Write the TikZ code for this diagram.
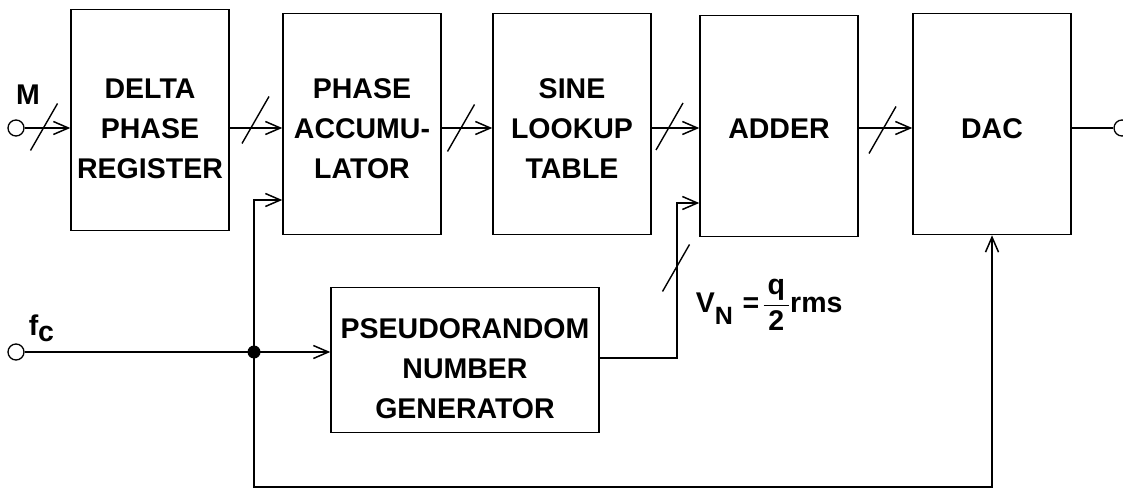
\documentclass[tikz,border=0pt]{standalone}
\usepackage{amsmath}
\usepackage{fontspec}
\setmainfont{Liberation Sans}
\usetikzlibrary{positioning,arrows.meta}
% invisible strut on the first line: pushes the text down inside its box
\newcommand\padtop[1]{\rule{0pt}{#1pt}}

\begin{document}
\begin{tikzpicture}[
  x=1pt, y=-1pt,
  font=\bfseries\fontsize{28.5}{40}\selectfont,
  line width=1.5pt,
  box/.style={draw, minimum width=158, minimum height=221, align=center, inner sep=0pt},
  port/.style={circle, draw, fill=white, minimum size=16pt, inner sep=0pt, line width=1.3pt},
  dot/.style={circle, fill=black, minimum size=13pt, inner sep=0pt},
  lbl/.style={inner sep=0pt},
  arr/.style={-{Straight Barb[length=15pt, width=13pt]}},
  bus/.style={line width=1.4pt},
]
\useasboundingbox (0,0) rectangle (1123,489);
\def\ym{128}

% ---------- Bloques ----------
\node[box] (dpr) at (150,120) {\padtop{36.4}DELTA\\PHASE\\REGISTER};
\node[box] (pa)  at (362,124) {\padtop{28.4}PHASE\\ACCUMU-\\LATOR};
\node[box] (slt) at (572,124) {\padtop{28.4}SINE\\LOOKUP\\TABLE};
\node[box] (add) at (779,126) {\padtop{24.4}ADDER};
\node[box] (dac) at (992,124) {\padtop{28.4}DAC};
\node[box, minimum width=268, minimum height=145] (prng) at (465,360)
  {\padtop{37.4}PSEUDORANDOM\\NUMBER\\GENERATOR};

% ---------- Entradas y salida ----------
\node[port] (min)  at (16,\ym) {};
\node[port] (fcin) at (16,352) {};
\node[port] (vout) at (1122,\ym) {};
\node[dot]  (jn)   at (254,352) {};

\node[lbl, anchor=base] (mlbl) at (28,105) {M};
\node[lbl, anchor=base west] (fclbl) at (28,335) {f\raisebox{-6pt}{c}};
\node[lbl, anchor=base west] (vnlbl) at (695,312)
  {V\raisebox{-12pt}{\fontsize{25}{25}\selectfont N} \hspace{2pt}=\hspace{3pt}$\genfrac{}{}{1.4pt}{0}{\mbox{\hspace{4pt}q\hspace{4pt}}}{\mbox{2}}$rms};

% ---------- Flechas ----------
\draw[arr] (min.east) -- (dpr.west |- 0,\ym);
\draw[arr] (dpr.east |- 0,\ym) -- (pa.west |- 0,\ym);
\draw[arr] (pa.east |- 0,\ym) -- (slt.west |- 0,\ym);
\draw[arr] (slt.east |- 0,\ym) -- (add.west |- 0,\ym);
\draw[arr] (add.east |- 0,\ym) -- (dac.west |- 0,\ym);
\draw (dac.east |- 0,\ym) -- (vout.west);

\draw[arr] (fcin.east) -- (prng.west |- 0,352);
\draw[arr] (jn.center) |- (pa.west |- 0,200);
\draw[arr] (jn.center) -- (254,487) -| (dac.south);
\draw[arr] (prng.east |- 0,358) -| (677,203) -- (add.west |- 0,203);

% ---------- Marcas de bus ----------
\draw[bus] (44,127)    ++(-13.5,23.5) -- ++(27,-47);
\draw[bus] (255.5,120) ++(-13.5,23.5) -- ++(27,-47);
\draw[bus] (461,128)   ++(-13.5,23.5) -- ++(27,-47);
\draw[bus] (669.5,126.5) ++(-13.5,23.5) -- ++(27,-47);
\draw[bus] (882.5,130) ++(-13.5,23.5) -- ++(27,-47);
\draw[bus] (676,268)   ++(-13.5,23.5) -- ++(27,-47);
\end{tikzpicture}
\end{document}
